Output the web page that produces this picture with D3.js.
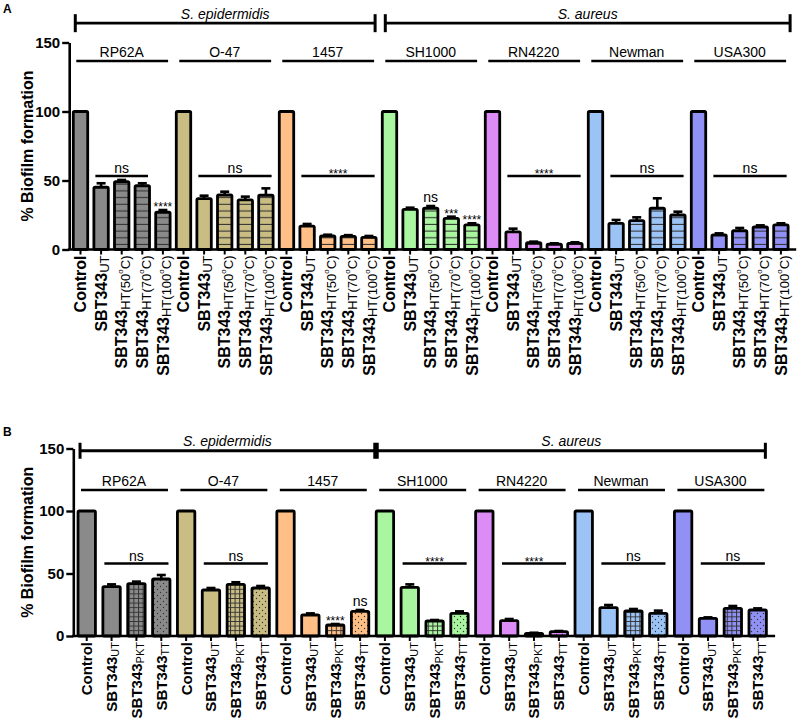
<!DOCTYPE html>
<html><head><meta charset="utf-8">
<script src="https://cdn.jsdelivr.net/npm/d3@7"></script>
<style>
body{margin:0;background:#fff}
svg{display:block}
text{font-family:Arial,"Liberation Sans",Helvetica,sans-serif;fill:#000}
</style>
</head><body>
<svg id="chart" width="800" height="722"></svg>
<script>
// ---------------- DATA ----------------
const strains = ["RP62A","O-47","1457","SH1000","RN4220","Newman","USA300"];
const speciesNames = ["S. epidermidis","S. aureus"];
const speciesStrains = [[0,2],[3,6]];
const yTicks = [0,50,100,150];

// Panel A conditions
const mainLabelA = ["Control","SBT343","SBT343","SBT343","SBT343"];
const subLabelA  = ["","UT","HT(50","HT(70","HT(100"];
const degLabelA  = [false,false,true,true,true];
const meansA = [
  [100,45.1,49.1,46.2,27.0],
  [100,36.8,39.5,35.9,39.3],
  [100,17.0,9.8,9.5,8.8],
  [100,29.1,29.9,22.6,17.8],
  [100,12.7,4.9,3.8,4.5],
  [100,19.0,20.9,29.9,25.0],
  [100,10.5,13.6,16.3,17.8]
];
const semA = [
  [0,2.9,1.3,1.8,1.6],
  [0,2.2,2.4,2.4,5.0],
  [0,1.5,0.9,0.9,1.0],
  [0,1.2,1.6,1.2,1.2],
  [0,2.4,0.8,0.7,0.7],
  [0,2.4,2.4,7.2,2.4],
  [0,1.2,2.0,1.2,1.2]
];
// bracket significance: [strain, fromCond, toCond, label]
const sigLinesA = [[0,1,3,"ns"],[1,1,4,"ns"],[2,1,4,"****"],[4,1,4,"****"],[5,1,4,"ns"],[6,1,4,"ns"]];
const sigMarksA = [[0,4,"****"],[3,2,"ns"],[3,3,"***"],[3,4,"****"]];

// Panel B conditions
const mainLabelB = ["Control","SBT343","SBT343","SBT343"];
const subLabelB  = ["","UT","PKT","TT"];
const meansB = [
  [100,39.5,41.9,45.6],
  [100,36.8,41.3,38.4],
  [100,16.8,8.8,19.7],
  [100,38.9,12.0,18.1],
  [100,12.3,2.1,3.5],
  [100,22.7,20.0,18.1],
  [100,14.1,22.1,20.8]
];
const semB = [
  [0,1.8,1.6,3.2],
  [0,1.6,1.7,1.6],
  [0,1.3,0.8,1.1],
  [0,2.4,0.8,1.6],
  [0,1.3,0.5,0.5],
  [0,2.1,1.6,2.2],
  [0,0.8,1.9,1.3]
];
const sigLinesB = [[0,1,3,"ns"],[1,1,3,"ns"],[3,1,3,"****"],[4,1,3,"****"],[5,1,3,"ns"],[6,1,3,"ns"]];
const sigMarksB = [[2,2,"****"],[2,3,"ns"]];

// ---------------- STYLE ----------------
const strainColors = ["#8a8a8a","#c9bd84","#ffbf86","#aaf5a0","#de8cf5","#9cc3f5","#9191f5"];
const patternA = [null,null,"stripe","stripe","stripe"];
const patternB = [null,null,"grid","dots"];

const svg = d3.select("#chart");
const defs = svg.append("defs");

function makePattern(type, ci){
  const id = type + ci;
  const c = strainColors[ci];
  if(!defs.select("#"+id).empty()) return "url(#"+id+")";
  if(type==="stripe"){
    const p = defs.append("pattern").attr("id",id).attr("patternUnits","userSpaceOnUse")
      .attr("width",10).attr("height",6.7);
    p.append("rect").attr("width",10).attr("height",6.7).attr("fill",c);
    p.append("line").attr("x1",0).attr("x2",10).attr("y1",3.3).attr("y2",3.3)
      .attr("stroke","#333").attr("stroke-width",1.1);
  } else if(type==="grid"){
    const p = defs.append("pattern").attr("id",id).attr("patternUnits","userSpaceOnUse")
      .attr("width",4.6).attr("height",4.6);
    p.append("rect").attr("width",4.6).attr("height",4.6).attr("fill",c);
    p.append("path").attr("d","M0,0.5H4.6M0.5,0V4.6").attr("stroke","#333").attr("stroke-width",1);
  } else if(type==="dots"){
    const p = defs.append("pattern").attr("id",id).attr("patternUnits","userSpaceOnUse")
      .attr("width",6).attr("height",6);
    p.append("rect").attr("width",6).attr("height",6).attr("fill",c);
    p.append("circle").attr("cx",1.5).attr("cy",1.5).attr("r",0.7).attr("fill","#333");
    p.append("circle").attr("cx",4.5).attr("cy",4.5).attr("r",0.7).attr("fill","#333");
  }
  return "url(#"+id+")";
}

function drawPanel(cfg){
  const {means, sem, mainLabels, subLabels, degLabels, patterns, xRange, yRange,
         sigLines, sigMarks, sigLineVal, strainLineVal, speciesLineVal, letter, letterY,
         speciesEnds, capHalf, speciesTextOff, labelSize, subSize} = cfg;
  const nCond = mainLabels.length;
  const idx = d3.range(strains.length*nCond);
  const x = d3.scaleBand().domain(idx).range(xRange).paddingInner(0.3).paddingOuter(0.15);
  const y = d3.scaleLinear().domain([0,150]).range(yRange);
  const bw = x.bandwidth();
  const axisX = xRange[0]-1;
  const g = svg.append("g");

  // y axis
  const ya = g.append("g").attr("transform",`translate(${axisX},0)`)
    .call(d3.axisLeft(y).tickValues(yTicks).tickSize(7).tickSizeOuter(0).tickPadding(2));
  ya.select(".domain").attr("stroke","#000").attr("stroke-width",2.6);
  ya.selectAll(".tick line").attr("stroke","#000").attr("stroke-width",2.4);
  ya.selectAll(".tick text").attr("font-size",15).attr("font-weight","bold")
    .attr("font-family","Arial,'Liberation Sans',sans-serif").attr("fill","#000");

  // y label
  g.append("text").attr("transform",`translate(33,${(yRange[0]+yRange[1])/2}) rotate(-90)`)
    .attr("text-anchor","middle").attr("font-size",16).attr("font-weight","bold")
    .text("% Biofilm formation");

  // panel letter
  g.append("text").attr("x",3).attr("y",letterY).attr("font-size",12).attr("font-weight","bold").text(letter);

  // bars
  const bars = [];
  means.forEach((arr,si)=>arr.forEach((v,ci)=>{
    bars.push({si,ci,v,e:sem[si][ci],i:si*nCond+ci});
  }));
  g.selectAll("rect.bar").data(bars).enter().append("rect").attr("class","bar")
    .attr("x",d=>x(d.i)).attr("y",d=>y(d.v)).attr("width",bw).attr("height",d=>y(0)-y(d.v))
    .attr("fill",d=>patterns[d.ci]?makePattern(patterns[d.ci],d.si):strainColors[d.si])
    .attr("stroke","#000").attr("stroke-width",2.8).attr("stroke-linejoin","round").attr("rx",1.2);

  // error bars
  const eb = bars.filter(d=>d.e>0);
  g.selectAll("line.err").data(eb).enter().append("line")
    .attr("x1",d=>x(d.i)+bw/2).attr("x2",d=>x(d.i)+bw/2)
    .attr("y1",d=>y(d.v)).attr("y2",d=>y(d.v+d.e)).attr("stroke","#000").attr("stroke-width",2.6);
  g.selectAll("line.cap").data(eb).enter().append("line")
    .attr("x1",d=>x(d.i)+bw/2-4.5).attr("x2",d=>x(d.i)+bw/2+4.5)
    .attr("y1",d=>y(d.v+d.e)).attr("y2",d=>y(d.v+d.e)).attr("stroke","#000").attr("stroke-width",2.6);

  // x axis
  const xa = g.append("g").attr("transform",`translate(0,${y(0)})`)
    .call(d3.axisBottom(x).tickSize(5).tickFormat(""));
  xa.select(".domain").remove();
  xa.selectAll(".tick line").attr("stroke","#000").attr("stroke-width",2);
  g.append("line").attr("x1",axisX-1.3).attr("x2",xRange[1]+5).attr("y1",y(0)).attr("y2",y(0))
    .attr("stroke","#000").attr("stroke-width",2.6);

  // x labels
  bars.forEach(d=>{
    const cx = x(d.i)+bw/2;
    const t = g.append("text").attr("transform",`translate(${cx},${y(0)+6}) rotate(-90)`)
      .attr("text-anchor","end").attr("font-weight","bold").attr("font-size",labelSize);
    t.append("tspan").attr("dy","0.36em").text(mainLabels[d.ci]);
    if(subLabels[d.ci]){
      t.append("tspan").attr("font-size",subSize).attr("font-weight","normal").attr("dy",2.5).text(subLabels[d.ci]);
      if(degLabels && degLabels[d.ci]){
        t.append("tspan").attr("font-size",8).attr("font-weight","normal").attr("dy",-7).text("o");
        t.append("tspan").attr("font-size",subSize).attr("font-weight","normal").attr("dy",7).text("C)");
      }
    }
  });

  // strain headers
  strains.forEach((s,si)=>{
    const x0 = x(si*nCond), x1 = x(si*nCond+nCond-1)+bw;
    g.append("line").attr("x1",x0+3).attr("x2",x1-2).attr("y1",y(strainLineVal)).attr("y2",y(strainLineVal))
      .attr("stroke","#000").attr("stroke-width",2.6);
    g.append("text").attr("x",(x0+x1)/2).attr("y",y(strainLineVal)-4).attr("text-anchor","middle")
      .attr("font-size",14).text(s);
  });

  // species headers
  speciesNames.forEach((s,k)=>{
    const [a,b] = speciesStrains[k];
    const xs = x(a*nCond)+speciesEnds[k][0], xe = x(b*nCond+nCond-1)+bw+speciesEnds[k][1];
    const yy = y(speciesLineVal);
    g.append("line").attr("x1",xs).attr("x2",xe).attr("y1",yy).attr("y2",yy).attr("stroke","#000").attr("stroke-width",2.8);
    [xs,xe].forEach(xx=>g.append("line").attr("x1",xx).attr("x2",xx).attr("y1",yy-capHalf).attr("y2",yy+capHalf)
      .attr("stroke","#000").attr("stroke-width",3));
    g.append("text").attr("x",(xs+xe)/2).attr("y",yy-speciesTextOff).attr("text-anchor","middle")
      .attr("font-size",14).attr("font-style","italic").text(s);
  });

  // significance brackets
  sigLines.forEach(([si,a,b,lab])=>{
    const x0 = x(si*nCond+a)+1.5, x1 = x(si*nCond+b)+bw-1.5;
    const yy = y(sigLineVal);
    g.append("line").attr("x1",x0).attr("x2",x1).attr("y1",yy).attr("y2",yy).attr("stroke","#000").attr("stroke-width",2.6);
    const star = lab.indexOf("*")>=0;
    g.append("text").attr("x",(x0+x1)/2).attr("y",star?yy+2:yy-3).attr("text-anchor","middle")
      .attr("font-size",star?12:14).text(lab);
  });
  sigMarks.forEach(([si,ci,lab])=>{
    const i = si*nCond+ci;
    const top = y(means[si][ci]+sem[si][ci]);
    const star = lab.indexOf("*")>=0;
    g.append("text").attr("x",x(i)+bw/2).attr("y",star?top+1:top-4).attr("text-anchor","middle")
      .attr("font-size",star?12:14).text(lab);
  });
}

drawPanel({
  means:meansA, sem:semA, mainLabels:mainLabelA, subLabels:subLabelA, degLabels:degLabelA,
  patterns:patternA, xRange:[70.2,791.2], yRange:[249.5,42.5],
  sigLines:sigLinesA, sigMarks:sigMarksA, sigLineVal:53.3, strainLineVal:136.6, speciesLineVal:164,
  letter:"A", letterY:13, speciesEnds:[[2,-1],[3,2]], capHalf:9, speciesTextOff:4,
  labelSize:16, subSize:13
});
drawPanel({
  means:meansB, sem:semB, mainLabels:mainLabelB, subLabels:subLabelB, degLabels:null,
  patterns:patternB, xRange:[74.3,770.1], yRange:[636,448.5],
  sigLines:sigLinesB, sigMarks:sigMarksB, sigLineVal:58, strainLineVal:116.8, speciesLineVal:148.2,
  letter:"B", letterY:436, speciesEnds:[[2,6],[1,-1]], capHalf:8, speciesTextOff:5,
  labelSize:15, subSize:11
});
</script>
</body></html>
